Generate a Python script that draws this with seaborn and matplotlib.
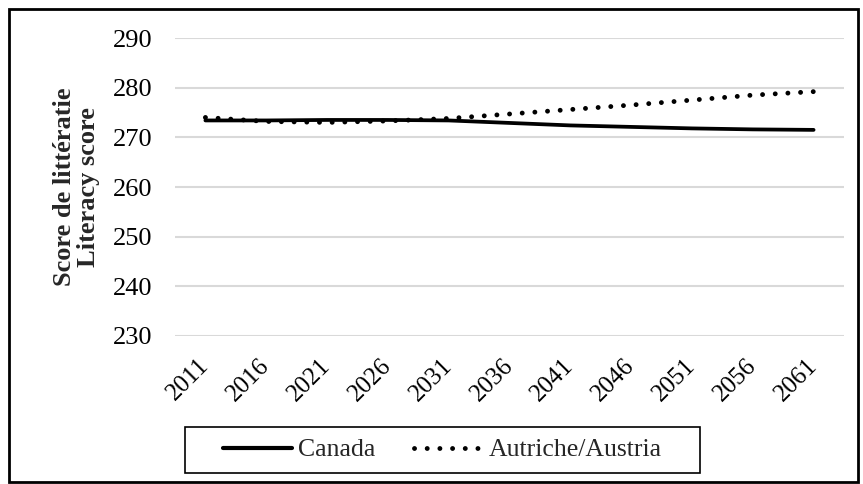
import matplotlib
matplotlib.use("Agg")
import matplotlib.pyplot as plt
import pandas as pd
import seaborn as sns
from matplotlib.lines import Line2D
from matplotlib.patches import Rectangle

years = ["2011", "2016", "2021", "2026", "2031", "2036", "2041", "2046", "2051", "2056", "2061"]
canada = [273.4, 273.4, 273.5, 273.5, 273.4, 272.9, 272.4, 272.1, 271.8, 271.6, 271.5]
austria = [274.0, 273.2, 273.0, 273.3, 273.8, 274.7, 275.6, 276.5, 277.5, 278.5, 279.2]
series_names = ["Canada", "Autriche/Austria"]
y_ticks = [230, 240, 250, 260, 270, 280, 290]

df = pd.DataFrame({
    "year": years * 2,
    "score": canada + austria,
    "series": [series_names[0]] * len(years) + [series_names[1]] * len(years),
})

sns.set_style("white")
plt.rcParams["font.family"] = ["Liberation Serif", "DejaVu Serif"]

W, H = 863, 484
fig = plt.figure(figsize=(W / 100, H / 100), dpi=100)
ax = fig.add_axes([175 / W, 1 - 336 / H, (844 - 175) / W, (336 - 38) / H])

dot = (0.01, 2.6)
sns.lineplot(
    data=df, x="year", y="score", hue="series", style="series",
    palette={series_names[0]: "black", series_names[1]: "black"},
    dashes={series_names[0]: "", series_names[1]: dot},
    linewidth=3.5, ax=ax, legend=False, sort=False,
)
lines = ax.get_lines()
lines[0].set_linewidth(2.7)
for line in lines:
    line.set_dash_capstyle("round")
    line.set_solid_capstyle("round")

ax.set_xlim(-0.5, len(years) - 0.5)
ax.set_ylim(230, 290)
ax.set_yticks(y_ticks)
ax.set_xticks(range(len(years)))
ax.set_xticklabels(years, rotation=45, ha="right", va="center", rotation_mode="anchor")
ax.tick_params(axis="y", length=0, labelsize=19, colors="black", pad=16)
ax.tick_params(axis="x", length=0, labelsize=18, colors="black", pad=19)
ax.grid(axis="y", color="#d9d9d9", linewidth=1.5)
ax.grid(axis="x", visible=False)
for s in ax.spines.values():
    s.set_visible(False)
ax.set_xlabel("")
ax.set_ylabel("Score de littératie\nLiteracy score", fontsize=19, fontweight="bold",
              linespacing=1.05)
ax.yaxis.set_label_coords((100 - 175) / (844 - 175), 0.5)

handles = [
    Line2D([], [], color="black", linewidth=3.0),
    Line2D([], [], color="black", linewidth=3.5, linestyle=(0, dot),
           dash_capstyle="round"),
]
leg = fig.legend(handles, series_names, loc="center left", bbox_to_anchor=(223 / W, 1 - 450 / H),
                 ncol=2, frameon=False, fontsize=18.5, borderpad=0, borderaxespad=0,
                 handlelength=2.69, columnspacing=1.5, handletextpad=0.23)

fig.canvas.draw()
bb = leg.get_window_extent()
x0, x1 = bb.x0 - 38, bb.x1 + 38
fig.patches.append(Rectangle((x0 / W, 11 / H), (x1 - x0) / W, 46 / H, transform=fig.transFigure,
                             fill=False, edgecolor="black", linewidth=1.2))

fig.patches.append(Rectangle((0.011, 0.004), 0.983, 0.978, transform=fig.transFigure,
                             fill=False, edgecolor="black", linewidth=2))

fig.savefig("out.png", dpi=100)
